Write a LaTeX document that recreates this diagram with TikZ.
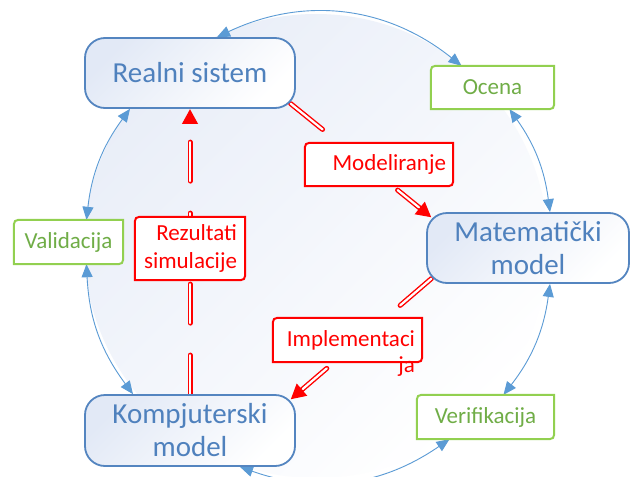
\documentclass[tikz,border=0pt]{standalone}
\usepackage{fontspec}
\setmainfont{Carlito}
\usetikzlibrary{arrows.meta,calc}
\pgfdeclarelayer{back}
\pgfdeclarelayer{conn}
\pgfdeclarelayer{boxes}
\pgfsetlayers{back,conn,boxes,main}
\definecolor{bluebd}{RGB}{84,133,192}
\definecolor{bluetxt}{RGB}{79,129,189}
\definecolor{arcblue}{RGB}{91,155,213}
\definecolor{greenbd}{RGB}{146,208,80}
\definecolor{greentxt}{RGB}{112,173,71}
\definecolor{boxtop}{RGB}{226,233,246}
\definecolor{disctop}{RGB}{233,238,248}
\newcommand\tagbox[2]{\draw[#2] (#1.north east) -- ([yshift=10pt]#1.south east) .. controls (#1.south east) .. ([xshift=-10pt]#1.south east) -- (#1.south west) -- ([yshift=-10pt]#1.north west) .. controls (#1.north west) .. ([xshift=10pt]#1.north west) -- cycle;}
\begin{document}
\begin{tikzpicture}[x=1pt,y=-1pt,
  bluebox/.style={draw=bluebd, line width=1.8pt, rounded corners=20pt, top color=boxtop, bottom color=white, shading angle=45, text=bluetxt, font=\fontsize{29}{33}\selectfont, align=center, minimum width=210pt, minimum height=70pt, inner sep=0pt},
  greenlbl/.style={text=greentxt, font=\fontsize{23}{28}\selectfont, inner sep=0pt, align=center},
  redlbl/.style={text=red, font=\fontsize{23}{28}\selectfont, inner sep=0pt, align=right},
  greenbox/.style={draw=greenbd, line width=2pt, fill=white},
  redbox/.style={draw=red, line width=2pt, fill=white},
  blueconn/.style={draw=arcblue, line width=0.9pt, {Triangle[length=13pt,width=11pt]}-{Triangle[length=13pt,width=11pt]}},
  redline/.style={draw=red, line width=5pt, line cap=round, postaction={draw=white, line width=2.2pt}},
  redarrow/.style={draw=red, line width=5pt, line cap=round, -{Triangle[length=15pt,width=15pt]}, postaction={draw=white, line width=2.2pt, -, shorten >=16pt}}
]
\useasboundingbox (0,0) rectangle (630,477);
\begin{pgfonlayer}{back}
  \fill[white] (0,0) rectangle (630,477);
  \shade[top color=disctop, bottom color=white, shading angle=45] (316,246) circle[radius=232pt];
\end{pgfonlayer}

% main boxes
\node[bluebox] (realni) at (190,73) {Realni sistem};
\node[bluebox, minimum width=202pt] (mat) at (528,248) {Matematički\\model};
\node[bluebox, minimum height=71pt] (komp) at (190,430.5) {Kompjuterski\\model};

% labels
\node[greenlbl, minimum width=123pt, minimum height=43pt] (ocena) at (492.5,87.5) {Ocena};
\node[greenlbl, minimum width=109pt, minimum height=44pt] (valid) at (68.5,242) {Validacija};
\node[greenlbl, minimum width=137pt, minimum height=44pt] (verif) at (485.5,417) {Verifikacija};
\node[redlbl, text width=134pt, inner xsep=7pt, minimum height=43pt] (model) at (379,164.5) {Modeliranje};
\node[redlbl, text width=94pt, inner xsep=8pt, minimum height=63pt] (rez) at (190,248.5) {Rezultati\\simulacije};
\node[redlbl, text width=135pt, inner xsep=7pt, minimum height=44pt] (impl) at (347.5,340) {Implementaci};
\node[redlbl, anchor=base east] (implja) at (415,372) {ja};

\begin{pgfonlayer}{boxes}
  \tagbox{ocena}{greenbox}
  \tagbox{valid}{greenbox}
  \tagbox{verif}{greenbox}
  \tagbox{model}{redbox}
  \tagbox{rez}{redbox}
  \tagbox{impl}{redbox}
\end{pgfonlayer}

\begin{pgfonlayer}{conn}
  % blue cycle
  \draw[blueconn] ([shift={(27,0)}]realni.north) to[bend left=32] ([shift={(-31,0)}]ocena.north);
  \draw[blueconn] ([shift={(17,0)}]ocena.south) to[bend left=14] ([shift={(22,0)}]mat.north);
  \draw[blueconn] ([shift={(22,0)}]mat.south) to[bend left=15] ([shift={(18,0)}]verif.north);
  \draw[blueconn] ([shift={(-36,0)}]verif.south) to[bend left=27] ([shift={(50,0)}]komp.south);
  \draw[blueconn] ([shift={(-57,0)}]komp.north) to[bend left=17] ([shift={(18,0)}]valid.south);
  \draw[blueconn] ([shift={(18,0)}]valid.north) to[bend left=15] ([shift={(-60,0)}]realni.south);
  % red connectors
  \coordinate (r1a) at ([shift={(-5.3,-5.3)}]realni.south east);
  \coordinate (r1b) at ([shift={(5.3,5.3)}]mat.north west);
  \draw[redline] (r1a) -- ($(r1a)!0.227!(r1b)$);
  \draw[redarrow] ($(r1a)!0.76!(r1b)$) -- (r1b);
  \coordinate (r2a) at ([shift={(5.3,-5.3)}]mat.south west);
  \coordinate (r2b) at ([shift={(-5.3,5.3)}]komp.north east);
  \draw[redline] (r2a) -- ($(r2a)!0.222!(r2b)$);
  \draw[redarrow] ($(r2a)!0.743!(r2b)$) -- (r2b);
  \draw[redarrow, dash pattern=on 39pt off 32pt] (komp.north) -- (realni.south);
\end{pgfonlayer}
\end{tikzpicture}
\end{document}
